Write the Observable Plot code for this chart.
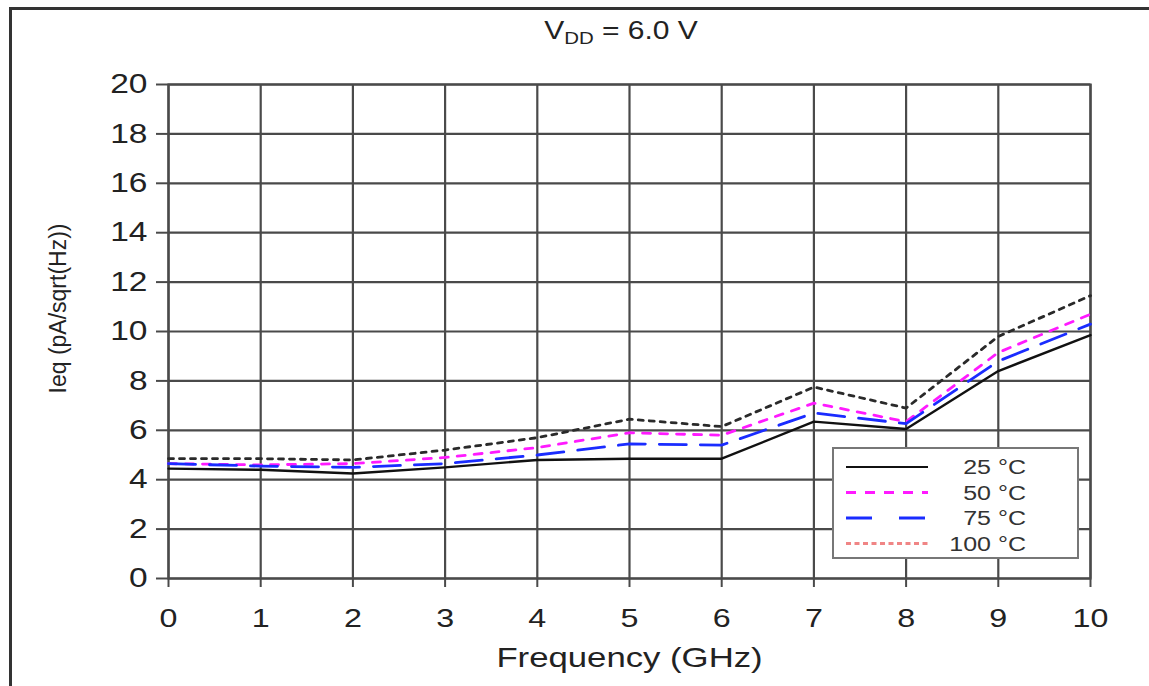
<!DOCTYPE html>
<html><head><meta charset="utf-8">
<script src="https://cdn.jsdelivr.net/npm/d3@7"></script>
<script src="https://cdn.jsdelivr.net/npm/@observablehq/plot@0.6"></script>
<style>
body{margin:0;background:#fff;}
#wrap{position:relative;width:1149px;height:686px;overflow:hidden;font-family:"Liberation Sans",Arial,sans-serif;color:#222;}
#frame{position:absolute;left:9px;top:7px;width:1200px;height:700px;border-left:3px solid #333;border-top:3px solid #333;}
#chart{position:absolute;left:0;top:0;}
#title{position:absolute;left:0;top:16px;width:1035px;text-align:center;font-size:25px;color:#222;transform:scaleX(1.2);transform-origin:0 0;}
#title sub{font-size:17px;vertical-align:-5px;}
#legend{position:absolute;left:832px;top:447px;width:243px;height:108px;border:2px solid #777;background:#fff;}
</style></head><body>
<div id="wrap"><div id="frame"></div><div id="chart"></div><div id="title">V<sub>DD</sub> = 6.0 V</div><div id="legend"></div></div>
<script>
const frequency = [0, 1, 2, 3, 4, 5, 6, 7, 8, 9, 10];
const ieq25  = [4.45, 4.4, 4.25, 4.5, 4.8, 4.85, 4.85, 6.35, 6.05, 8.4, 9.85];
const ieq50  = [4.65, 4.6, 4.65, 4.9, 5.3, 5.9, 5.8, 7.1, 6.35, 9.15, 10.7];
const ieq75  = [4.65, 4.55, 4.5, 4.65, 5.0, 5.45, 5.4, 6.7, 6.27, 8.8, 10.3];
const ieq100 = [4.85, 4.85, 4.8, 5.2, 5.7, 6.45, 6.15, 7.75, 6.9, 9.8, 11.45];
const seriesLabels = ["25 °C", "50 °C", "75 °C", "100 °C"];
const xTicks = [0, 1, 2, 3, 4, 5, 6, 7, 8, 9, 10];
const yTicks = [0, 2, 4, 6, 8, 10, 12, 14, 16, 18, 20];
const xLabel = "Frequency (GHz)";
const yLabel = "Ieq (pA/sqrt(Hz))";

const seriesValues = [ieq25, ieq50, ieq75, ieq100];
const styles = [
  {stroke: "#111", dash: null, width: 2.4, legendStroke: "#111"},
  {stroke: "#ff1aff", dash: "8,9", width: 2.8, legendStroke: "#ff1aff"},
  {stroke: "#1a2cff", dash: "27,14", width: 2.8, legendStroke: "#1a2cff"},
  {stroke: "#2a2a2a", dash: "5,6", width: 2.8, legendStroke: "#f08585"}
];
const rows = seriesLabels.map((s, i) => frequency.map((f, j) => ({series: s, f, v: seriesValues[i][j]})));

const chart = Plot.plot({
  width: 1149, height: 686,
  marginLeft: 168, marginRight: 59, marginTop: 84, marginBottom: 108,
  x: {domain: [0, 10]},
  y: {domain: [0, 20]},
  style: {fontFamily: '"Liberation Sans", Arial, sans-serif', background: "transparent", color: "#222"},
  marks: [
    Plot.gridX(xTicks, {stroke: "#4a4a4a", strokeOpacity: 1, strokeWidth: 2.2}),
    Plot.gridY(yTicks, {stroke: "#4a4a4a", strokeOpacity: 1, strokeWidth: 2.2}),
    Plot.frame({stroke: "#4a4a4a", strokeWidth: 2.2}),
    Plot.axisX(xTicks, {tickSize: 9, tickPadding: 21, fontSize: 26, label: null, stroke: "#4a4a4a", strokeWidth: 2}),
    Plot.axisY(yTicks, {tickSize: 12, tickPadding: 9, fontSize: 27, label: null, stroke: "#4a4a4a", strokeWidth: 2}),
    ...rows.map((r, i) => Plot.line(r, {x: "f", y: "v", stroke: styles[i].stroke, strokeWidth: styles[i].width, strokeDasharray: styles[i].dash})),
    Plot.text([xLabel], {frameAnchor: "bottom", dy: 88, fontSize: 28, fill: "#222"}),
    Plot.text([yLabel], {frameAnchor: "left", textAnchor: "middle", dx: -110, dy: -23, rotate: -90, fontSize: 23, fill: "#222"})
  ]
});
document.getElementById("chart").appendChild(chart);

// horizontal stretch of the reference's text
function stretch(t, k) {
  const len = t.getComputedTextLength();
  t.setAttribute("textLength", len * k);
  t.setAttribute("lengthAdjust", "spacingAndGlyphs");
}
chart.querySelectorAll("text").forEach(t => { if (t.textContent !== yLabel) stretch(t, 1.24); });

// legend
const lg = d3.select("#legend").append("svg").attr("width", 243).attr("height", 108);
seriesLabels.forEach((s, i) => {
  const y = 18 + i * 25.5;
  lg.append("line").attr("x1", 12).attr("x2", 94).attr("y1", y).attr("y2", y)
    .attr("stroke", styles[i].legendStroke).attr("stroke-width", i === 0 ? 2.2 : 3)
    .attr("stroke-dasharray", i === 0 ? null : (i === 1 ? "10,9" : i === 2 ? "26,27" : "5,3.5"));
  const t = lg.append("text").attr("x", 192).attr("y", y + 7).attr("text-anchor", "end")
    .attr("font-size", 20).attr("fill", "#333").attr("font-family", '"Liberation Sans", Arial, sans-serif').text(s);
  stretch(t.node(), 1.25);
});
</script>
</body></html>
